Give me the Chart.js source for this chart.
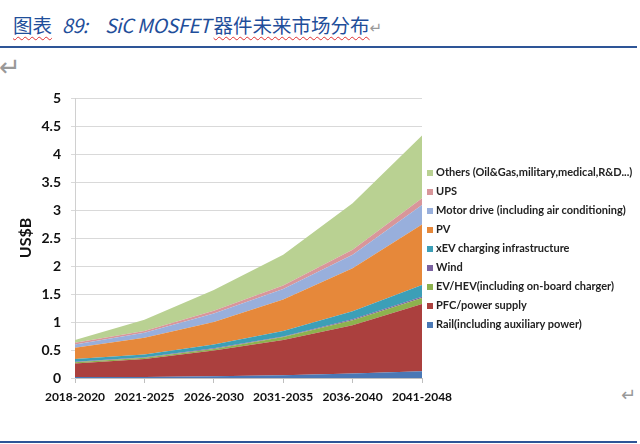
<!DOCTYPE html>
<html>
<head>
<meta charset="utf-8">
<script src="https://cdn.jsdelivr.net/npm/chart.js@4.4.1/dist/chart.umd.min.js"></script>
<style>
  html, body { margin: 0; padding: 0; background: #fff; }
  body { width: 640px; height: 444px; position: relative; overflow: hidden; }
  #chart { position: absolute; left: 0; top: 0; }
  .title {
    position: absolute; left: 13px; top: 14px; line-height: 22px;
    font-family: "Noto Sans CJK SC", "Noto Sans", sans-serif;
    font-size: 19.5px; color: #1f4e9a; white-space: nowrap;
  }
  .title i { font-style: italic; letter-spacing: -0.4px; }
  .wavy { text-decoration: underline wavy #e03030; text-decoration-thickness: 1px; text-underline-offset: 3px; }
  .mark { color: #999; font-family: "DejaVu Sans", sans-serif; }
  .rule { position: absolute; left: 0; width: 637px; height: 1.5px; background: #2e5597; }
  #legend {
    position: absolute; left: 427px; top: 162px;
    font-family: "Lato", sans-serif;
    font-size: 11px; font-weight: bold; color: #222;
  }
  #legend div { height: 19px; line-height: 19px; white-space: nowrap; }
  #legend span.box { display: inline-block; width: 6px; height: 6px; margin-right: 3px; vertical-align: 0px; }
</style>
</head>
<body>
<div class="title"><span class="wavy">图表</span><i style="margin-left:10px">89:</i><i style="margin-left:17px">SiC MOSFET</i><span class="wavy" style="margin-left:3px">器件未来市场分布</span><span class="mark" style="font-size:15px">↵</span></div>
<div class="rule" style="top:46px"></div>
<div class="mark" style="position:absolute;left:-1px;top:52px;font-size:26px;">↵</div>
<div class="mark" style="position:absolute;left:621px;top:384px;font-size:18px;">↵</div>
<div class="rule" style="top:441px"></div>
<canvas id="chart" width="640" height="444"></canvas>
<div id="legend"></div>
<script>
'use strict';

const periods = ['2018-2020', '2021-2025', '2026-2030', '2031-2035', '2036-2040', '2041-2048'];

// US$B per segment, bottom of the stack first
const rail = [0.02, 0.02, 0.03, 0.05, 0.08, 0.12];
const pfcPowerSupply = [0.24, 0.32, 0.46, 0.63, 0.86, 1.20];
const evHev = [0.02, 0.02, 0.03, 0.05, 0.09, 0.11];
const wind = [0.01, 0.01, 0.01, 0.01, 0.02, 0.02];
const xevCharging = [0.05, 0.05, 0.07, 0.10, 0.14, 0.21];
const pv = [0.20, 0.30, 0.40, 0.56, 0.77, 1.08];
const motorDrive = [0.06, 0.09, 0.15, 0.19, 0.24, 0.35];
const ups = [0.03, 0.03, 0.05, 0.06, 0.09, 0.12];
const others = [0.05, 0.20, 0.37, 0.55, 0.83, 1.12];

const yMin = 0;
const yMax = 5;
const yStep = 0.5;

const series = [
  { label: 'Rail(including auxiliary power)', data: rail, color: '#4a78b5' },
  { label: 'PFC/power supply', data: pfcPowerSupply, color: '#ab403e' },
  { label: 'EV/HEV(including on-board charger)', data: evHev, color: '#8db24e' },
  { label: 'Wind', data: wind, color: '#7a62a0' },
  { label: 'xEV charging infrastructure', data: xevCharging, color: '#3c9fb7' },
  { label: 'PV', data: pv, color: '#e6883a' },
  { label: 'Motor drive (including air conditioning)', data: motorDrive, color: '#98afdc' },
  { label: 'UPS', data: ups, color: '#d8969a' },
  { label: 'Others (Oil&Gas,military,medical,R&D...)', data: others, color: '#b9d192' },
];

const datasets = series.map(function (s, i) {
  return {
    label: s.label,
    data: s.data,
    backgroundColor: s.color,
    borderColor: s.color,
    borderWidth: 0,
    pointRadius: 0,
    tension: 0,
    fill: i === 0 ? 'origin' : '-1',
  };
});

const axisFont = '"Lato", sans-serif';

new Chart(document.getElementById('chart'), {
  type: 'line',
  data: { labels: periods, datasets: datasets },
  options: {
    responsive: false,
    animation: false,
    events: [],
    layout: { padding: { left: 16, top: 98, right: 218, bottom: 36 } },
    plugins: {
      legend: { display: false },
      tooltip: { enabled: false },
    },
    scales: {
      x: {
        offset: false,
        grid: { display: true, drawOnChartArea: false, drawTicks: true, tickLength: 5, color: '#bfbfbf', offset: false },
        border: { display: true, color: '#bfbfbf' },
        ticks: {
          autoSkip: false, maxRotation: 0, padding: 7, color: '#111',
          font: { family: axisFont, size: 12, weight: 'bold' },
        },
        afterFit: function (scale) { scale.height = 30; },
      },
      y: {
        stacked: true,
        min: yMin,
        max: yMax,
        grid: { color: '#d9d9d9', tickLength: 4 },
        border: { display: true, color: '#d0d0d0' },
        ticks: {
          stepSize: yStep, padding: 10, color: '#111',
          font: { family: axisFont, size: 14, weight: 'bold' },
          callback: function (value) { return String(value); },
        },
        title: {
          display: true, text: 'US$B', color: '#111', padding: 0,
          font: { family: axisFont, size: 16, weight: 'bold' },
        },
        afterFit: function (scale) { scale.width = 59; },
      },
    },
  },
});

const legend = document.getElementById('legend');
for (const s of series.slice().reverse()) {
  const row = document.createElement('div');
  const box = document.createElement('span');
  box.className = 'box';
  box.style.background = s.color;
  row.appendChild(box);
  row.appendChild(document.createTextNode(s.label));
  legend.appendChild(row);
}
</script>
</body>
</html>
